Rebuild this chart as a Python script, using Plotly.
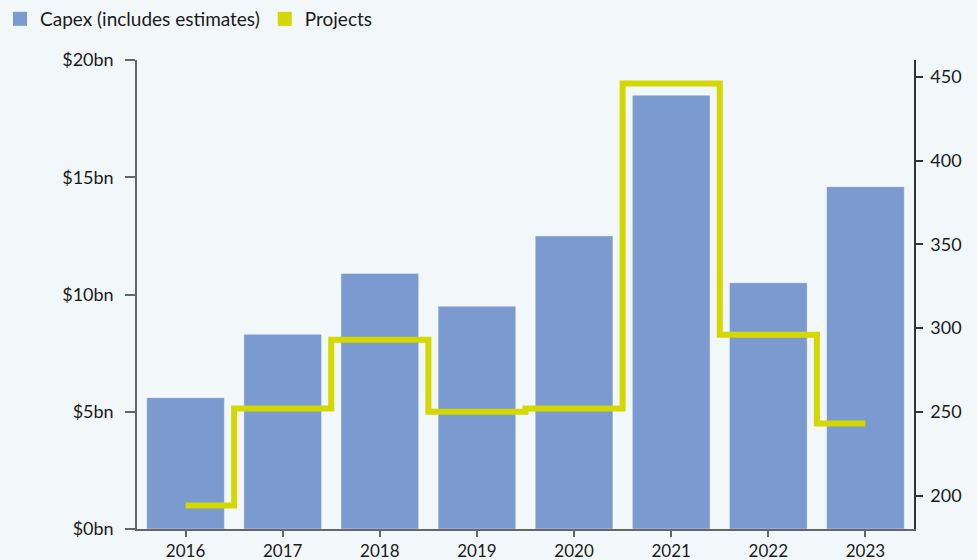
import plotly.graph_objects as go

years = ["2016", "2017", "2018", "2019", "2020", "2021", "2022", "2023"]
capex_bn = [5.6, 8.3, 10.9, 9.5, 12.5, 18.5, 10.5, 14.6]
projects = [194, 252, 293, 250, 252, 446, 296, 243]

left_ticks = [0, 5, 10, 15, 20]
left_labels = ["$0bn", "$5bn", "$10bn", "$15bn", "$20bn"]
right_ticks = [200, 250, 300, 350, 400, 450]

BG = "#f2f7fa"
BAR = "#7b9acf"
LINE = "#d3d800"
FONT = "Lato"

fig = go.Figure()
fig.add_trace(go.Bar(
    x=years, y=capex_bn, name="Capex (includes estimates)",
    marker=dict(color=BAR, line=dict(color="rgba(255,255,255,0.4)", width=1)),
    yaxis="y", hoverinfo="x+y", showlegend=False,
))
fig.add_trace(go.Scatter(
    x=years, y=projects, name="Projects", mode="lines",
    line=dict(color=LINE, width=6, shape="hvh"),
    yaxis="y2", showlegend=False,
))
# square legend swatches, as in the reference
for name, col in [("Capex (includes estimates)", BAR), ("Projects", LINE)]:
    fig.add_trace(go.Scatter(
        x=[None], y=[None], name=name, mode="markers",
        marker=dict(symbol="square", size=14, color=col),
        yaxis="y2", showlegend=True, hoverinfo="skip",
    ))

fig.update_layout(
    width=977, height=560,
    paper_bgcolor=BG, plot_bgcolor=BG,
    margin=dict(l=137, r=63, t=60, b=31, autoexpand=False),
    barmode="overlay", bargap=0.2,
    font=dict(family=FONT, size=18, color="#1a1a1a"),
    legend=dict(orientation="h", xref="container", yref="container",
                x=0, xanchor="left", y=1, yanchor="top",
                font=dict(size=19), itemwidth=30, traceorder="normal",
                bgcolor="rgba(0,0,0,0)"),
    xaxis=dict(type="category", range=[-0.5, 7.5], showgrid=False,
               showline=True, linecolor="#666666", linewidth=1.5,
               ticks="outside", ticklen=6, tickcolor="#666666", tickwidth=1.5,
               ticklabelstandoff=0, tickfont=dict(size=17)),
    yaxis=dict(range=[0, 20], tickvals=left_ticks, ticktext=left_labels,
               showgrid=False, zeroline=False, showline=True,
               linecolor="#666666", linewidth=1.5,
               ticks="outside", ticklen=10, tickcolor="#666666", tickwidth=1.5,
               ticklabelstandoff=8, tickfont=dict(size=18)),
    yaxis2=dict(range=[180, 460], tickvals=right_ticks, overlaying="y", side="right",
                showgrid=False, zeroline=False, showline=True,
                linecolor="#333333", linewidth=1.5,
                ticks="outside", ticklen=7, tickcolor="#333333", tickwidth=1.5,
                ticklabelstandoff=4, tickfont=dict(size=18)),
)

fig.write_html(
    "out.html",
    config={"displayModeBar": False},
    post_script=(
        "document.body.style.margin='0';"
        "document.body.style.overflow='hidden';"
        "document.body.style.background='" + BG + "';"
    ),
)
